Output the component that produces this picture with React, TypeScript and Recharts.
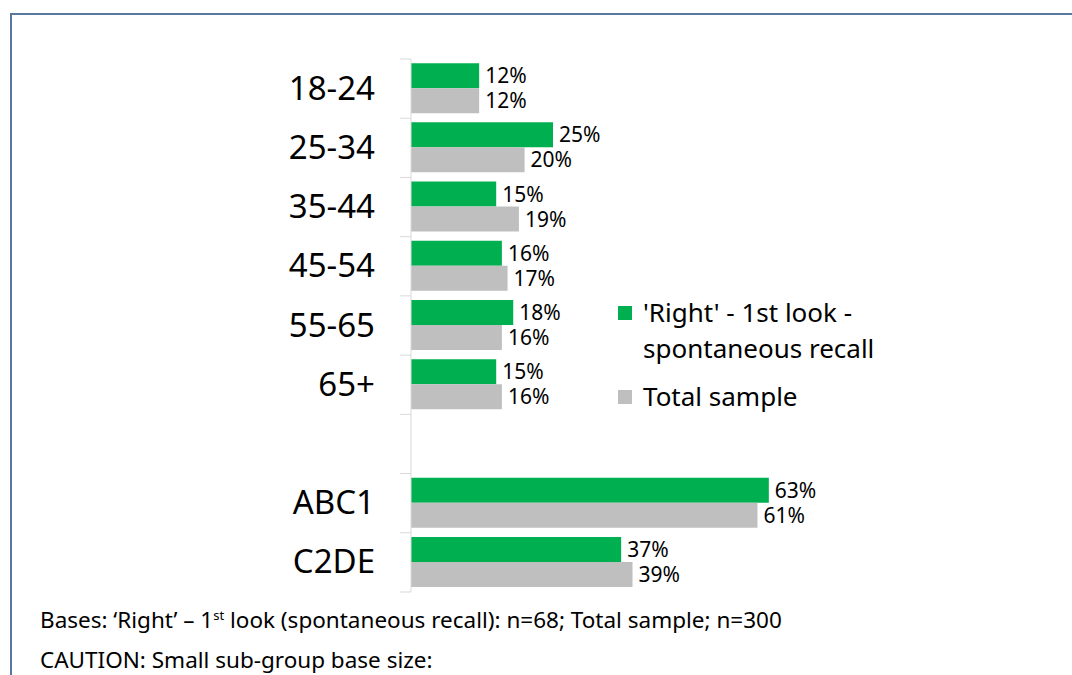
import React from "react";
import { BarChart, Bar, XAxis, YAxis, LabelList } from "recharts";

const categories = ["18-24", "25-34", "35-44", "45-54", "55-65", "65+", "", "ABC1", "C2DE"];
const rightValues: (number | null)[] = [12, 25, 15, 16, 18, 15, null, 63, 37];
const totalValues: (number | null)[] = [12, 20, 19, 17, 16, 16, null, 61, 39];
const seriesNames = ["'Right' - 1st look -", "spontaneous recall", "Total sample"];

const data = categories.map((c, i) => ({ name: c, right: rightValues[i], total: totalValues[i] }));

const W = 1072;
const H = 675;
const TOP = 59;
const BOTTOM = 592;
const AXIS_X = 411;
const BAND = (BOTTOM - TOP) / categories.length;
const FONT = "'Noto Sans', 'Open Sans', sans-serif";

const CatTick = (props: any) => {
  const { y, payload, index } = props;
  const top = y - BAND / 2;
  const bot = y + BAND / 2;
  return (
    <g>
      <line x1={AXIS_X - 11} x2={AXIS_X} y1={top} y2={top} stroke="#d9d9d9" strokeWidth={1} />
      {index === categories.length - 1 && (
        <line x1={AXIS_X - 11} x2={AXIS_X} y1={bot} y2={bot} stroke="#d9d9d9" strokeWidth={1} />
      )}
      <text x={AXIS_X - 36} y={y} dy={11} textAnchor="end" fontSize={33} fontFamily={FONT} fill="#000">
        {payload.value}
      </text>
    </g>
  );
};

const fmt = (v: any) => (v == null ? "" : `${v}%`);
const labelStyle = { fontSize: 21, fontFamily: FONT, fill: "#000" };

export default function App() {
  return (
    <div style={{ position: "absolute", left: 0, top: 0, width: W, height: H, background: "#fff", overflow: "hidden" }}>
      <div style={{ position: "absolute", left: 10, top: 13, width: W, height: H, borderTop: "2px solid #5878a0", borderLeft: "2px solid #5878a0" }} />
      <div style={{ position: "absolute", left: 0, top: 0 }}>
        <BarChart
          width={W}
          height={H}
          data={data}
          layout="vertical"
          margin={{ top: TOP, bottom: H - BOTTOM, left: 0, right: W - AXIS_X - 70 * 5.68 }}
          barCategoryGap="7%"
          barGap={0}
        >
          <XAxis type="number" domain={[0, 70]} hide />
          <YAxis
            type="category"
            dataKey="name"
            width={AXIS_X}
            axisLine={{ stroke: "#d9d9d9" }}
            tickLine={false}
            tickSize={0}
            tickMargin={0}
            interval={0}
            tick={<CatTick />}
          />
          <Bar dataKey="right" fill="#00b050" isAnimationActive={false}>
            <LabelList dataKey="right" position="right" offset={6} formatter={fmt} style={labelStyle} />
          </Bar>
          <Bar dataKey="total" fill="#bfbfbf" isAnimationActive={false}>
            <LabelList dataKey="total" position="right" offset={6} formatter={fmt} style={labelStyle} />
          </Bar>
        </BarChart>
      </div>
      <div style={{ position: "absolute", left: 618, top: 294, fontFamily: FONT, fontSize: 26, color: "#000", lineHeight: "36px", whiteSpace: "nowrap" }}>
        <div style={{ display: "flex", alignItems: "flex-start" }}>
          <span style={{ display: "inline-block", width: 14, height: 14, background: "#00b050", marginTop: 12, marginRight: 11 }} />
          <span>{seriesNames[0]}<br />{seriesNames[1]}</span>
        </div>
        <div style={{ display: "flex", alignItems: "flex-start", marginTop: 12 }}>
          <span style={{ display: "inline-block", width: 14, height: 14, background: "#bfbfbf", marginTop: 12, marginRight: 11 }} />
          <span>{seriesNames[2]}</span>
        </div>
      </div>
      <div style={{ position: "absolute", left: 40, top: 605, fontFamily: FONT, fontSize: 22.5, color: "#000", whiteSpace: "nowrap", lineHeight: "30px" }}>
        Bases: ‘Right’ – 1<sup style={{ fontSize: 13, lineHeight: 0 }}>st</sup> look (spontaneous recall): n=68; Total sample; n=300
      </div>
      <div style={{ position: "absolute", left: 40, top: 645, fontFamily: FONT, fontSize: 22.5, color: "#000", whiteSpace: "nowrap", lineHeight: "30px" }}>
        CAUTION: Small sub-group base size:
      </div>
    </div>
  );
}
